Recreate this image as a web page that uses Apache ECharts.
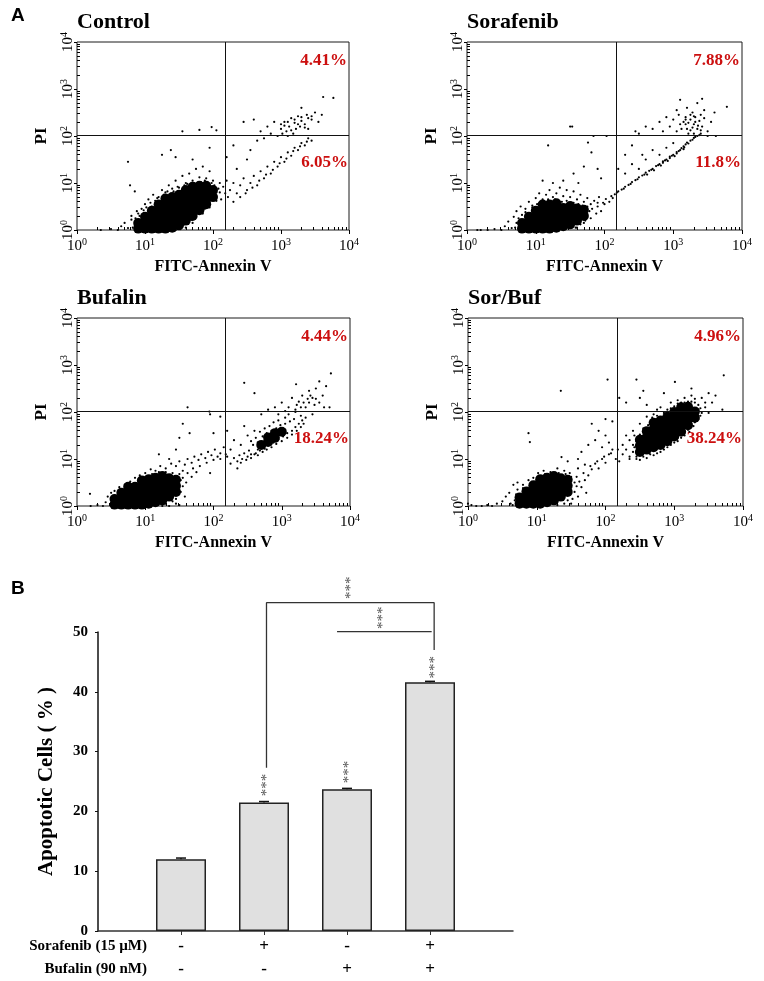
<!DOCTYPE html>
<html><head><meta charset="utf-8">
<script src="https://cdn.jsdelivr.net/npm/echarts@6/dist/echarts.min.js"></script>
<style>html,body{margin:0;padding:0;background:#fff}#c{width:764px;height:981px}</style>
</head><body><div id="c"></div>
<script>
// ---------------- DATA ----------------
// Panel A: flow cytometry dots, in decades [log10 FITC-Annexin V, log10 PI]
const panelTitles = ['Control', 'Sorafenib', 'Bufalin', 'Sor/Buf'];
const pctUpperRight = ['4.41%', '7.88%', '4.44%', '4.96%'];
const pctLowerRight = ['6.05%', '11.8%', '18.24%', '38.24%'];
const gateFITC = 150;
const gatePI = 105;
const decadeTicks = [1, 10, 100, 1000, 10000];

const ctrlCore = [[0.9,0.03],[0.9,0.15],[1.0,0.03],[1.0,0.15],[1.0,0.28],[1.1,0.03],[1.1,0.15],[1.1,0.28],[1.1,0.41],
[1.2,0.03],[1.2,0.15],[1.2,0.28],[1.2,0.41],[1.2,0.54],[1.3,0.03],[1.3,0.15],[1.3,0.28],[1.3,0.41],[1.3,0.54],[1.3,0.67],
[1.4,0.05],[1.4,0.18],[1.4,0.31],[1.4,0.44],[1.4,0.57],[1.4,0.7],[1.5,0.1],[1.5,0.23],[1.5,0.36],[1.5,0.49],[1.5,0.62],[1.5,0.75],
[1.6,0.2],[1.6,0.33],[1.6,0.46],[1.6,0.59],[1.6,0.72],[1.6,0.85],[1.7,0.3],[1.7,0.43],[1.7,0.56],[1.7,0.69],[1.7,0.82],[1.7,0.92],
[1.8,0.42],[1.8,0.55],[1.8,0.68],[1.8,0.81],[1.8,0.94],[1.9,0.55],[1.9,0.68],[1.9,0.81],[1.9,0.94],[2.0,0.7],[2.0,0.85]];
const ctrlDots = [[0.35,0.0],[0.5,0.02],[0.6,0.0],[0.65,0.08],[0.7,0.15],[0.75,0.04],[0.8,0.22],[0.8,0.3],[0.85,0.1],[0.88,0.4],
[0.92,0.3],[0.95,0.45],[1.0,0.55],[1.05,0.65],[1.1,0.5],[0.85,0.82],[0.78,0.95],[1.12,0.75],[1.2,0.7],[1.25,0.85],[1.3,0.8],
[1.35,0.95],[1.4,0.88],[1.45,1.05],[1.5,0.9],[1.55,1.15],[1.6,1.0],[1.65,1.2],[1.7,1.05],[1.75,1.3],[1.8,1.12],[1.85,1.35],
[1.9,1.1],[1.95,1.25],[2.0,1.05],[1.25,1.6],[1.45,1.55],[1.38,1.7],[0.75,1.45],[1.55,2.1],[1.8,2.13],[1.98,2.19],[2.05,2.12],
[1.95,1.75],[1.7,1.5],[1.6,0.05],[1.7,0.15],[1.75,0.28],[1.85,0.35],[1.95,0.48],[2.05,0.62],[2.1,0.8],[2.1,1.0],[2.15,0.92],
[2.2,1.05],[2.22,0.7],[2.25,0.85],[2.3,0.6],[2.3,1.0],[2.35,0.78],[2.4,0.95],[2.4,0.7],[2.45,1.1],[2.5,0.85],[2.55,1.0],
[2.6,1.15],[2.65,0.95],[2.7,1.25],[2.75,1.1],[2.8,1.35],[2.85,1.2],[2.9,1.45],[2.95,1.35],[3.0,1.55],[3.05,1.45],[3.1,1.65],
[3.15,1.58],[3.2,1.75],[3.25,1.7],[3.3,1.85],[3.35,1.8],[3.4,1.95],[3.45,1.9],[2.5,1.5],[2.55,1.7],[2.65,1.9],[2.7,2.1],
[2.75,1.95],[2.8,2.2],[2.85,2.05],[2.9,2.3],[2.95,2.0],[3.0,2.15],[3.02,2.05],[3.05,2.3],[3.08,2.1],[3.1,2.0],[3.12,2.2],
[3.15,2.38],[3.18,2.05],[3.2,2.28],[3.22,2.15],[3.25,2.42],[3.28,2.2],[3.3,2.32],[3.35,2.25],[3.38,2.45],[3.4,2.15],
[3.45,2.35],[3.5,2.5],[3.55,2.3],[3.6,2.45],[3.3,2.6],[3.62,2.83],[3.77,2.81],[2.35,1.3],[2.45,2.3],[2.6,2.35],[2.2,1.55],[2.3,1.8],
[0.82,0.05],[0.86,0.25],[0.9,0.35],[0.98,0.42],[1.02,0.48],[1.08,0.58],[1.15,0.62],[1.18,0.68],[1.28,0.75],[1.33,0.82],
[1.42,0.82],[1.48,0.92],[1.58,0.95],[1.62,0.98],[1.72,1.0],[1.82,1.02],[1.88,1.05],[1.98,1.0],[2.02,0.95],[2.05,0.8],
[2.08,0.88],[1.95,0.6],[1.88,0.45],[1.78,0.35],[1.68,0.22],[1.58,0.12],[1.52,0.02],[1.45,0.0],[2.12,0.65],[2.18,0.78],
[2.48,0.78],[2.58,0.9],[2.68,1.05],[2.78,1.18],[2.88,1.28],[2.98,1.42],[3.08,1.52],[3.18,1.68],[3.28,1.78],[3.38,1.88],
[3.0,2.25],[3.1,2.3],[3.2,2.35],[3.3,2.4],[3.4,2.38],[3.25,2.25],[3.35,2.18],[3.15,2.12],[3.05,2.22],[3.45,2.42]];

const sorCore = [[0.8,0.03],[0.8,0.15],[0.9,0.03],[0.9,0.15],[0.9,0.28],[1.0,0.03],[1.0,0.15],[1.0,0.28],[1.0,0.41],
[1.1,0.03],[1.1,0.15],[1.1,0.28],[1.1,0.41],[1.1,0.54],[1.2,0.03],[1.2,0.15],[1.2,0.28],[1.2,0.41],[1.2,0.54],
[1.3,0.05],[1.3,0.18],[1.3,0.31],[1.3,0.44],[1.3,0.57],[1.4,0.08],[1.4,0.21],[1.4,0.34],[1.4,0.47],
[1.5,0.12],[1.5,0.25],[1.5,0.38],[1.5,0.51],[1.6,0.2],[1.6,0.33],[1.6,0.46],[1.7,0.3],[1.7,0.43]];
const sorDots = [[0.15,0.0],[0.2,0.0],[0.3,0.0],[0.4,0.02],[0.5,0.0],[0.55,0.08],[0.6,0.18],[0.65,0.04],[0.68,0.28],[0.72,0.4],
[0.78,0.5],[0.85,0.45],[0.9,0.6],[0.95,0.52],[1.0,0.68],[1.05,0.78],[1.1,0.65],[1.15,0.75],[1.2,0.85],[1.25,0.7],[1.3,0.78],
[1.35,0.9],[1.4,0.72],[1.45,0.85],[1.5,0.7],[1.55,0.82],[1.6,0.65],[1.65,0.75],[1.7,0.6],[1.75,0.68],[1.8,0.55],[1.85,0.62],
[1.9,0.5],[1.92,0.7],[1.98,0.58],[2.02,0.66],[2.07,0.6],[2.1,0.72],[1.6,0.05],[1.7,0.15],[1.8,0.25],[1.88,0.35],[1.95,0.4],
[1.1,1.05],[1.25,1.0],[1.18,1.8],[1.4,1.05],[1.55,1.2],[1.62,1.0],[1.7,1.35],[1.76,1.86],[1.81,1.65],[1.84,2.0],[1.5,2.2],
[1.53,2.2],[2.03,2.0],[1.9,1.3],[1.95,1.1],[2.15,0.76],[2.2,0.82],[2.25,0.86],[2.3,0.92],[2.35,0.96],[2.4,1.02],[2.45,1.06],
[2.5,1.12],[2.55,1.16],[2.6,1.22],[2.62,1.18],[2.65,1.26],[2.7,1.3],[2.72,1.27],[2.75,1.36],[2.8,1.4],[2.82,1.37],[2.85,1.46],
[2.9,1.5],[2.92,1.47],[2.95,1.56],[3.0,1.6],[3.02,1.57],[3.05,1.66],[3.1,1.7],[3.12,1.74],[3.15,1.78],[3.18,1.82],[3.2,1.86],
[3.25,1.9],[3.3,1.96],[3.35,2.0],[3.4,2.05],[2.3,1.2],[2.4,1.4],[2.5,1.3],[2.55,1.6],[2.6,1.5],[2.7,1.7],[2.4,1.8],[2.3,1.6],
[2.2,1.3],[2.8,1.6],[2.9,1.75],[3.0,1.85],[2.45,2.1],[2.5,2.05],[2.6,2.2],[2.7,2.15],[2.8,2.3],[2.85,2.1],[2.9,2.4],[2.95,2.2],
[3.0,2.35],[3.05,2.1],[3.08,2.45],[3.1,2.25],[3.15,2.3],[3.18,2.4],[3.2,2.15],[3.22,2.28],[3.25,2.35],[3.28,2.5],[3.3,2.25],
[3.32,2.4],[3.35,2.15],[3.38,2.32],[3.4,2.45],[3.42,2.2],[3.45,2.38],[3.5,2.1],[3.55,2.3],[3.3,2.05],[3.25,2.12],[3.6,2.5],
[3.35,2.7],[3.05,2.55],[3.78,2.62],[3.1,2.77],[3.42,2.79],[3.5,2.0],[3.62,2.0],[3.45,2.55],[3.2,2.6],
[0.7,0.05],[0.72,0.15],[0.75,0.25],[0.8,0.32],[0.85,0.38],[0.95,0.48],[1.02,0.55],[1.08,0.6],[1.18,0.65],[1.28,0.65],
[1.38,0.6],[1.45,0.62],[1.55,0.58],[1.62,0.55],[1.68,0.52],[1.75,0.5],[1.78,0.4],[1.72,0.2],[1.65,0.12],[1.58,0.05],
[1.82,0.45],[1.9,0.58],[2.0,0.55],[2.12,0.68],[2.18,0.8],[2.28,0.88],[2.38,0.98],[2.48,1.08],[2.58,1.18],[2.68,1.28],
[2.78,1.38],[2.88,1.48],[2.98,1.58],[3.08,1.68],[3.16,1.76],[3.22,1.84],[3.28,1.92],[3.32,1.98],[3.38,2.02],[3.15,1.72],
[3.05,1.63],[2.95,1.53],[2.85,1.43],[3.12,2.15],[3.18,2.25],[3.22,2.05],[3.28,2.18],[3.32,2.3],[3.36,2.22],[3.4,2.12],
[3.3,2.42],[3.18,2.35],[3.25,2.45]];

const bufCore = [[0.55,0.03],[0.55,0.15],[0.65,0.03],[0.65,0.15],[0.65,0.28],[0.75,0.03],[0.75,0.15],[0.75,0.28],[0.75,0.41],
[0.85,0.03],[0.85,0.15],[0.85,0.28],[0.85,0.41],[0.95,0.03],[0.95,0.15],[0.95,0.28],[0.95,0.41],[0.95,0.54],
[1.05,0.05],[1.05,0.18],[1.05,0.31],[1.05,0.44],[1.05,0.57],[1.15,0.08],[1.15,0.21],[1.15,0.34],[1.15,0.47],[1.15,0.6],
[1.25,0.12],[1.25,0.25],[1.25,0.38],[1.25,0.51],[1.25,0.64],[1.35,0.2],[1.35,0.33],[1.35,0.46],[1.35,0.59],[1.45,0.3],[1.45,0.43],[1.45,0.56],
[2.7,1.3],[2.8,1.36],[2.8,1.46],[2.9,1.45],[2.9,1.55],[3.0,1.58]];
const bufDots = [[0.19,0.26],[0.2,0.0],[0.3,0.02],[0.38,0.0],[0.42,0.08],[0.45,0.2],[0.5,0.28],[0.55,0.32],[0.62,0.4],[0.7,0.45],
[0.78,0.52],[0.85,0.6],[0.92,0.65],[1.0,0.7],[1.08,0.78],[1.15,0.75],[1.22,0.85],[1.3,0.8],[1.38,0.9],[1.45,0.85],[1.5,0.95],
[1.55,0.75],[1.58,0.88],[1.62,1.0],[1.68,0.92],[1.72,1.05],[1.78,0.98],[1.82,1.1],[1.88,1.02],[1.92,1.15],[1.97,1.08],
[2.02,1.2],[2.06,1.05],[2.1,1.12],[2.15,1.25],[2.18,1.1],[1.6,0.5],[1.68,0.62],[1.75,0.72],[1.52,0.3],[1.45,0.15],[1.58,0.2],
[1.35,0.0],[1.5,0.02],[1.35,1.0],[1.2,1.1],[1.45,1.2],[1.5,1.45],[1.65,1.55],[1.55,1.75],[1.95,1.95],[1.94,2.01],[1.62,2.1],
[2.1,1.9],[2.0,1.55],[2.2,1.6],[1.95,0.7],[2.25,0.9],[2.3,1.02],[2.35,0.95],[2.38,1.08],[2.42,1.0],[2.45,1.12],[2.5,1.05],
[2.52,1.18],[2.55,1.1],[2.58,1.3],[2.62,1.12],[2.65,1.35],[2.68,1.18],[2.72,1.48],[2.75,1.22],[2.78,1.55],[2.82,1.3],
[2.85,1.6],[2.88,1.35],[2.92,1.65],[2.95,1.42],[2.98,1.72],[3.02,1.48],[3.05,1.75],[3.08,1.55],[3.12,1.8],[3.15,1.6],
[3.18,1.85],[3.2,1.68],[3.25,1.75],[3.3,1.82],[3.28,1.92],[3.35,1.88],[2.4,1.3],[2.5,1.5],[2.45,1.7],[2.6,1.6],[2.3,1.4],
[2.35,0.8],[2.25,1.2],[2.7,1.95],[2.8,2.05],[2.9,2.1],[2.95,1.95],[3.0,2.2],[3.05,2.02],[3.1,2.1],[3.15,2.3],[3.2,2.0],
[3.22,2.15],[3.25,2.22],[3.3,2.35],[3.35,2.1],[3.38,2.28],[3.4,2.45],[3.45,2.3],[3.48,2.15],[3.5,2.5],[3.55,2.2],[3.6,2.35],
[3.65,2.55],[3.72,2.82],[3.55,2.65],[3.21,2.59],[2.45,2.62],[2.6,2.4],[3.7,2.1],[3.45,1.95],[3.62,2.1],[2.65,1.2],[2.75,1.32],
[2.85,1.42],[2.95,1.52],[3.05,1.62],
[0.5,0.05],[0.55,0.22],[0.6,0.3],[0.7,0.38],[0.8,0.45],[0.9,0.52],[1.0,0.62],[1.1,0.68],[1.2,0.72],[1.3,0.72],[1.4,0.7],
[1.5,0.68],[1.52,0.55],[1.55,0.42],[1.45,0.05],[1.4,0.1],[1.3,0.05],[1.25,0.0],[1.55,0.6],[1.62,0.7],[1.7,0.8],[1.8,0.85],
[1.9,0.92],[2.0,0.98],[2.1,1.0],[2.2,1.05],[2.4,0.92],[2.48,0.98],[2.55,1.02],[2.6,1.1],[2.65,1.08],[2.72,1.15],[2.78,1.2],
[2.85,1.25],[2.92,1.32],[3.0,1.38],[3.08,1.45],[3.15,1.52],[3.22,1.6],[3.28,1.68],[3.32,1.75],[2.55,1.38],[2.62,1.45],
[2.68,1.58],[2.75,1.65],[2.82,1.7],[2.88,1.78],[2.95,1.82],[3.05,1.88],[3.1,1.95],[3.2,2.05],[3.28,2.1],[3.32,2.2],[3.4,2.2],
[3.42,2.35],[3.5,2.28]];

const sbCore = [[0.75,0.05],[0.75,0.18],[0.85,0.05],[0.85,0.18],[0.85,0.31],[0.95,0.05],[0.95,0.18],[0.95,0.31],[0.95,0.44],
[1.05,0.05],[1.05,0.18],[1.05,0.31],[1.05,0.44],[1.05,0.57],[1.15,0.08],[1.15,0.21],[1.15,0.34],[1.15,0.47],[1.15,0.6],
[1.25,0.12],[1.25,0.25],[1.25,0.38],[1.25,0.51],[1.25,0.64],[1.35,0.2],[1.35,0.33],[1.35,0.46],[1.35,0.59],[1.45,0.3],[1.45,0.43],[1.45,0.56],
[2.5,1.15],[2.5,1.28],[2.5,1.41],[2.6,1.2],[2.6,1.33],[2.6,1.46],[2.6,1.59],[2.7,1.25],[2.7,1.38],[2.7,1.51],[2.7,1.64],[2.7,1.77],
[2.8,1.3],[2.8,1.43],[2.8,1.56],[2.8,1.69],[2.8,1.82],[2.9,1.38],[2.9,1.51],[2.9,1.64],[2.9,1.77],[2.9,1.9],
[3.0,1.48],[3.0,1.61],[3.0,1.74],[3.0,1.87],[3.0,2.0],[3.1,1.58],[3.1,1.71],[3.1,1.84],[3.1,1.97],[3.1,2.1],
[3.2,1.72],[3.2,1.85],[3.2,1.98],[3.2,2.11],[3.3,1.88],[3.3,2.01]];
const sbDots = [[0.0,0.05],[0.05,0.02],[0.12,0.0],[0.2,0.0],[0.28,0.02],[0.35,0.0],[0.42,0.05],[0.5,0.1],[0.55,0.2],[0.6,0.28],
[0.62,0.05],[0.66,0.45],[0.72,0.5],[0.8,0.45],[0.88,0.55],[0.95,0.6],[1.02,0.7],[1.1,0.75],[1.2,0.72],[1.3,0.8],[1.4,0.75],
[1.48,0.7],[1.55,0.5],[1.58,0.62],[1.6,0.2],[1.65,0.4],[1.7,0.55],[1.72,0.28],[1.5,0.05],[1.6,0.8],[1.75,0.65],[1.8,0.78],
[1.85,0.9],[1.9,0.8],[1.95,1.0],[2.0,0.92],[2.05,1.1],[2.1,1.2],[2.15,1.0],[1.7,0.88],[1.6,1.0],[1.65,1.15],[1.75,1.3],
[1.85,1.4],[1.9,1.6],[2.0,1.5],[2.1,1.8],[2.0,1.85],[1.8,1.75],[0.9,1.36],[1.36,1.04],[0.88,1.55],[1.45,0.95],[1.35,2.45],
[2.03,2.69],[1.95,1.25],[2.05,1.35],[2.2,0.95],[2.25,1.1],[2.3,1.2],[2.35,1.0],[2.4,1.3],[2.45,1.05],[2.3,1.5],[2.4,1.6],
[2.5,1.75],[2.55,1.5],[2.6,1.9],[2.7,1.95],[2.75,2.05],[2.8,2.1],[2.9,2.05],[2.95,2.2],[3.0,2.12],[3.05,2.25],[3.1,2.2],
[3.15,2.3],[3.2,2.22],[3.25,2.35],[3.3,2.2],[3.35,2.05],[3.38,1.92],[3.3,1.78],[3.2,1.62],[3.1,1.45],[3.0,1.35],[2.9,1.25],
[2.8,1.15],[2.7,1.08],[2.6,1.02],[2.5,0.98],[3.4,2.3],[3.5,2.4],[3.55,2.2],[3.45,2.1],[3.6,2.35],[3.72,2.78],[3.01,2.64],
[2.45,2.69],[2.2,2.3],[2.3,2.2],[2.5,2.3],[2.6,2.15],[3.7,2.05],[3.5,1.98],[2.55,2.45],[3.25,2.5],[2.85,2.4],
[0.65,0.02],[0.68,0.12],[0.7,0.25],[0.72,0.35],[0.8,0.38],[0.9,0.42],[0.98,0.52],[1.05,0.62],[1.12,0.68],[1.22,0.7],
[1.32,0.7],[1.42,0.68],[1.5,0.62],[1.55,0.3],[1.52,0.15],[1.45,0.12],[1.4,0.05],[1.3,0.02],[1.58,0.42],[1.62,0.52],
[1.68,0.7],[1.78,0.85],[1.88,0.95],[1.98,1.05],[2.08,1.12],[2.18,1.2],[2.25,1.3],[2.35,1.4],[2.42,1.5],
[2.35,1.05],[2.4,1.15],[2.42,1.25],[2.45,1.38],[2.5,1.52],[2.55,1.65],[2.62,1.72],[2.68,1.88],[2.75,1.92],[2.85,1.98],
[2.95,2.08],[3.05,2.18],[3.15,2.2],[3.25,2.22],[3.35,2.15],[3.38,2.08],[3.4,1.98],[3.35,1.85],[3.28,1.7],[3.22,1.58],
[3.15,1.5],[3.05,1.38],[2.95,1.3],[2.85,1.2],[2.75,1.12],[2.65,1.1],[2.55,1.05],[2.45,1.0],[3.45,2.2],[3.3,2.28]];

// Panel B
const groups = ['Control', 'Sorafenib', 'Bufalin', 'Sor/Buf'];
const apoptotic = [12.0, 21.5, 23.7, 41.6];
const apoptoticSem = [0.2, 0.15, 0.15, 0.15];
const sorafenibSigns = ['-', '+', '-', '+'];
const bufalinSigns = ['-', '-', '+', '+'];
const rowTitles = ['Sorafenib (15 \u00b5M)', 'Bufalin (90 nM)'];
const bracketOuter = [[2.03, 27.3], [2.03, 54.9], [4.05, 54.9], [4.05, 47.0]];
const bracketInner = [[2.88, 50.05], [4.02, 50.05]];
const sigX = [2.04, 3.02, 4.06, 3.43, 3.05];
const sigY = [24.4, 26.6, 44.1, 52.4, 57.4];
const sigText = ['***', '***', '***', '***', '***'];

// ---------------- CHART ----------------
const SERIF = '"Liberation Serif","Times New Roman",serif';
const SANS = '"Liberation Sans",Arial,sans-serif';
const RED = '#cc0f0f';
const cores = [ctrlCore, sorCore, bufCore, sbCore];
const dots = [ctrlDots, sorDots, bufDots, sbDots];
const boxes = [[77, 42, 272, 188], [467, 42, 275, 188], [77, 318, 273, 188], [468, 318, 275, 188]];

const minorVals = [];
for (const d of [1, 10, 100, 1000]) for (let k = 2; k < 10; k++) minorVals.push(d * k);
const toLin = arr => arr.map(p => [Math.pow(10, p[0]), Math.pow(10, p[1])]);
const rich = {
  b: {fontFamily: SERIF, fontSize: 15, lineHeight: 17, verticalAlign: 'bottom', color: '#000'},
  s: {fontFamily: SERIF, fontSize: 10, lineHeight: 10, verticalAlign: 'top', color: '#000'}
};
const fmt = v => '{b|10}{s|' + Math.round(Math.log10(v)) + '}';

const grid = [], xAxis = [], yAxis = [], series = [], graphic = [];

panelTitles.forEach((t, i) => {
  const [l, tp, w, h] = boxes[i];
  grid.push({left: l, top: tp, width: w, height: h, show: true, borderColor: '#1a1a1a', borderWidth: 1, backgroundColor: '#fff'});
  xAxis.push({type: 'log', logBase: 10, gridIndex: i, min: 1, max: 10000, position: 'bottom',
    axisLine: {show: false}, splitLine: {show: false},
    axisTick: {show: true, inside: false, length: 4, customValues: decadeTicks, lineStyle: {color: '#000'}},
    axisLabel: {customValues: decadeTicks, formatter: fmt, rich: rich, margin: 7},
    name: 'FITC-Annexin V', nameLocation: 'middle', nameGap: 29,
    nameTextStyle: {fontFamily: SERIF, fontWeight: 'bold', fontSize: 16, color: '#000'}});
  yAxis.push({type: 'log', logBase: 10, gridIndex: i, min: 1, max: 10000, position: 'left',
    axisLine: {show: false}, splitLine: {show: false},
    axisTick: {show: true, inside: false, length: 3, customValues: decadeTicks, lineStyle: {color: '#000'}},
    axisLabel: {customValues: decadeTicks, formatter: fmt, rich: rich, rotate: 90, margin: 1},
    name: 'PI', nameLocation: 'middle', nameGap: 27,
    nameTextStyle: {fontFamily: SERIF, fontWeight: 'bold', fontSize: 17, color: '#000'}});
});
panelTitles.forEach((t, i) => {
  xAxis.push({type: 'log', logBase: 10, gridIndex: i, min: 1, max: 10000, position: 'bottom',
    axisLine: {show: false}, splitLine: {show: false}, axisLabel: {show: false},
    axisTick: {show: true, inside: true, length: 3, customValues: minorVals, lineStyle: {color: '#000'}}});
  yAxis.push({type: 'log', logBase: 10, gridIndex: i, min: 1, max: 10000, position: 'left',
    axisLine: {show: false}, splitLine: {show: false}, axisLabel: {show: false},
    axisTick: {show: true, inside: true, length: 3, customValues: minorVals, lineStyle: {color: '#000'}}});
});
panelTitles.forEach((t, i) => {
  series.push({type: 'scatter', xAxisIndex: i, yAxisIndex: i, data: toLin(cores[i]), symbolSize: 10,
    itemStyle: {color: '#000', opacity: 1}, silent: true});
  series.push({type: 'scatter', xAxisIndex: i, yAxisIndex: i, data: toLin(dots[i]), symbolSize: 2.2,
    itemStyle: {color: '#000', opacity: 1}, silent: true,
    markLine: {silent: true, symbol: ['none', 'none'], label: {show: false}, animation: false,
      lineStyle: {color: '#111', width: 1, type: 'solid'},
      data: [{xAxis: gateFITC}, {yAxis: gatePI}]}});
  const [l, tp, w, h] = boxes[i];
  graphic.push({type: 'text', left: l, top: tp - 31, style: {text: t, font: 'bold 22px ' + SERIF, fill: '#000'}});
  graphic.push({type: 'text', x: l + w - 2, y: tp + 19, style: {text: pctUpperRight[i], font: 'bold 17px ' + SERIF, fill: RED, align: 'right', verticalAlign: 'middle'}});
  graphic.push({type: 'text', x: l + w - 1, y: tp + 121, style: {text: pctLowerRight[i], font: 'bold 17px ' + SERIF, fill: RED, align: 'right', verticalAlign: 'middle'}});
});

// Panel B
const gB = grid.length;
grid.push({left: 98, top: 632, width: 415, height: 299});
const xB = xAxis.length, yB = yAxis.length;
xAxis.push({type: 'value', gridIndex: gB, min: 0, max: 5, interval: 1,
  axisLine: {show: true, lineStyle: {color: '#333', width: 1.5}}, splitLine: {show: false},
  axisTick: {show: true, length: 4, customValues: [1, 2, 3, 4], lineStyle: {color: '#333'}},
  axisLabel: {customValues: [1, 2, 3, 4], margin: 4, fontFamily: SERIF, fontWeight: 'bold', fontSize: 17, lineHeight: 23, color: '#000',
    formatter: v => { const k = Math.round(v) - 1; return (sorafenibSigns[k] || '') + '\n' + (bufalinSigns[k] || ''); }}});
yAxis.push({type: 'value', gridIndex: gB, min: 0, max: 50, interval: 10,
  axisLine: {show: true, lineStyle: {color: '#111', width: 1.5}}, splitLine: {show: false},
  axisTick: {show: true, length: 3, lineStyle: {color: '#111'}},
  axisLabel: {margin: 10, fontFamily: SERIF, fontWeight: 'bold', fontSize: 15, color: '#000'},
  name: 'Apoptotic Cells ( % )', nameLocation: 'middle', nameGap: 41,
  nameTextStyle: {fontFamily: SERIF, fontWeight: 'bold', fontSize: 21, color: '#000'}});
series.push({type: 'bar', xAxisIndex: xB, yAxisIndex: yB, barWidth: 50,
  data: groups.map((g, i) => [i + 1, apoptotic[i]]),
  itemStyle: {color: '#e0e0e0', borderColor: '#222', borderWidth: 1.5}, silent: true});
series.push({type: 'custom', xAxisIndex: xB, yAxisIndex: yB, z: 5, silent: true,
  data: groups.map((g, i) => [i + 1, apoptotic[i], apoptoticSem[i]]),
  renderItem: (params, api) => {
    const x = api.value(0), y = api.value(1), e = api.value(2);
    const p0 = api.coord([x, y]), p1 = api.coord([x, y + e]);
    const st = {stroke: '#111', lineWidth: 1.5};
    return {type: 'group', children: [
      {type: 'line', shape: {x1: p0[0], y1: p0[1], x2: p1[0], y2: p1[1]}, style: st},
      {type: 'line', shape: {x1: p1[0] - 5, y1: p1[1], x2: p1[0] + 5, y2: p1[1]}, style: st}]};
  }});
[bracketOuter, bracketInner].forEach(b => series.push({type: 'line', xAxisIndex: xB, yAxisIndex: yB, data: b,
  clip: false, symbol: 'none', silent: true, lineStyle: {color: '#333', width: 1.3}}));
series.push({type: 'scatter', xAxisIndex: xB, yAxisIndex: yB, clip: false, silent: true, symbolSize: 1,
  itemStyle: {color: 'rgba(0,0,0,0)'},
  data: sigX.map((x, i) => [x, sigY[i], sigText[i]]),
  label: {show: true, position: 'inside', formatter: p => p.value[2], rotate: 90,
    fontFamily: SERIF, fontSize: 15, color: '#222'}});

graphic.push({type: 'text', left: 11, top: 6, style: {text: 'A', font: 'bold 19px ' + SANS, fill: '#000'}});
graphic.push({type: 'text', left: 11, top: 579, style: {text: 'B', font: 'bold 19px ' + SANS, fill: '#000'}});
rowTitles.forEach((t, i) => graphic.push({type: 'text', x: 147, y: 946 + i * 23,
  style: {text: t, font: 'bold 15px ' + SERIF, fill: '#000', align: 'right', verticalAlign: 'middle'}}));

const chart = echarts.init(document.getElementById('c'), null, {renderer: 'canvas'});
chart.setOption({animation: false, backgroundColor: '#fff', grid, xAxis, yAxis, series, graphic});
</script></body></html>
